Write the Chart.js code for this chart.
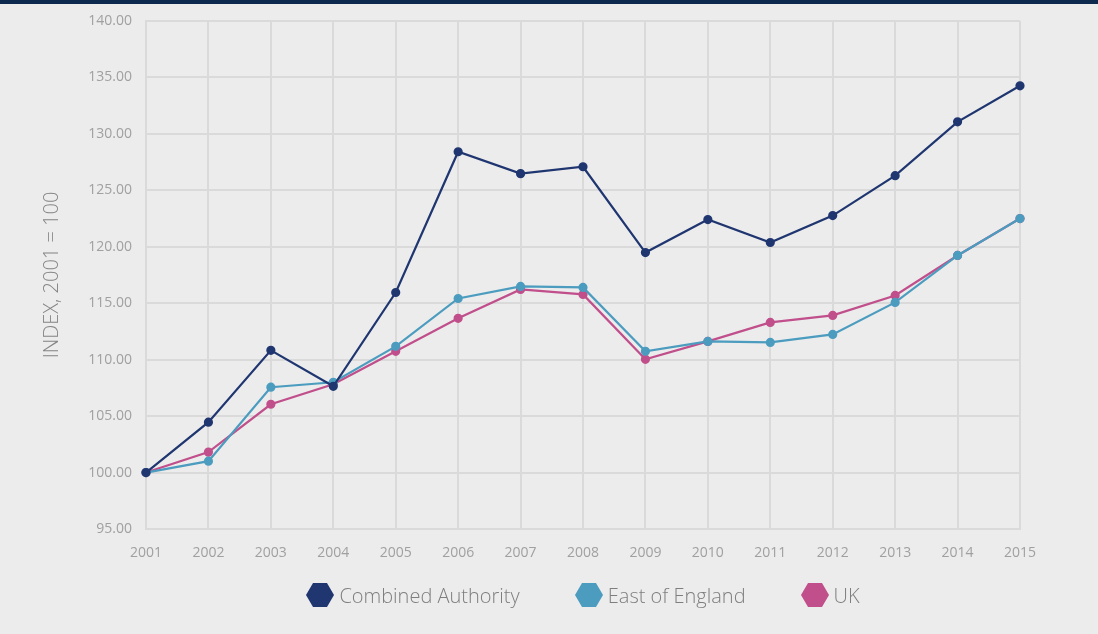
<!DOCTYPE html>
<html>
<head>
<meta charset="utf-8">
<script src="https://cdn.jsdelivr.net/npm/chart.js@4.4.0/dist/chart.umd.min.js"></script>
<style>
	html, body { margin: 0; padding: 0; background: #ececec; }
	#wrap { position: relative; width: 1098px; height: 634px; }
	#band { position: absolute; left: 0; top: 0; width: 1098px; height: 4px; background: #0d2a4e; }
	#legend {
		position: absolute; left: 146px; width: 874px; top: 580px; height: 30px;
		display: flex; justify-content: center; align-items: center;
		font-family: 'Open Sans'; font-weight: 300; font-size: 20px; color: #7e7e7e;
	}
	#legend .item { display: flex; align-items: center; margin-right: 55px; }
	#legend .item:last-child { margin-right: 0; }
	#legend canvas { margin-right: 5px; }
</style>
</head>
<body>
<div id="wrap">
	<canvas id="chart"></canvas>
	<div id="band"></div>
	<div id="legend"></div>
</div>
<script>

const years = ['2001', '2002', '2003', '2004', '2005', '2006', '2007', '2008', '2009', '2010', '2011', '2012', '2013', '2014', '2015'];

const combinedAuthority = [100.0, 104.46, 110.83, 107.64, 115.95, 128.42, 126.48, 127.09, 119.49, 122.41, 120.38, 122.76, 126.3, 131.07, 134.26];
const eastOfEngland = [100.0, 101.01, 107.56, 108.0, 111.18, 115.42, 116.49, 116.4, 110.74, 111.62, 111.53, 112.24, 115.07, 119.23, 122.5];
const uk = [100.0, 101.81, 106.05, 107.82, 110.74, 113.66, 116.22, 115.78, 110.03, 111.62, 113.3, 113.92, 115.69, 119.23, 122.5];

const seriesNames = ['Combined Authority', 'East of England', 'UK'];
const seriesColors = ['#1f3670', '#4b9cbf', '#c04f8b'];

function hexagon(color) {
	let c = document.createElement('canvas');
	c.width = 28;
	c.height = 24;
	let ctx = c.getContext('2d');
	ctx.fillStyle = color;
	ctx.beginPath();
	ctx.moveTo(0, 12);
	ctx.lineTo(7, 0);
	ctx.lineTo(21, 0);
	ctx.lineTo(28, 12);
	ctx.lineTo(21, 24);
	ctx.lineTo(7, 24);
	ctx.closePath();
	ctx.fill();
	return c;
}

const tickFont = { family: 'Open Sans', size: 14, weight: 400, lineHeight: 1 };

let datasets = [combinedAuthority, eastOfEngland, uk].map((values, key) => {
	return {
		label: seriesNames[key],
		data: values,
		borderColor: seriesColors[key],
		backgroundColor: seriesColors[key],
		borderWidth: 2.2,
		pointRadius: 3.5,
		pointHoverRadius: 3.5,
		tension: 0
	};
});

// html legend with hexagon markers
const htmlLegend = {
	id: 'htmlLegend',
	afterUpdate(chart) {
		let box = document.getElementById('legend');
		box.innerHTML = '';
		chart.data.datasets.forEach((dataset) => {
			let item = document.createElement('div');
			item.className = 'item';
			item.appendChild(hexagon(dataset.borderColor));
			let text = document.createElement('span');
			text.textContent = dataset.label;
			item.appendChild(text);
			box.appendChild(item);
		});
	}
};

new Chart(document.getElementById('chart'), {
	type: 'line',
	data: {
		labels: years,
		datasets: datasets
	},
	plugins: [htmlLegend],
	options: {
		responsive: true,
		maintainAspectRatio: false,
		animation: {
			duration: 0
		},
		layout: {
			padding: { top: 18, right: 78, bottom: 65, left: 0 }
		},
		scales: {
			x: {
				grid: { color: '#dadada', lineWidth: 2, drawTicks: false },
				border: { color: '#dadada', width: 2 },
				ticks: { color: '#a0a0a0', font: tickFont, padding: 17, maxRotation: 0 },
				afterFit: function(axis) { axis.height = 40; }
			},
			y: {
				min: 95,
				max: 140,
				grid: { color: '#dadada', lineWidth: 2, drawTicks: false },
				border: { color: '#dadada', width: 2 },
				ticks: {
					stepSize: 5,
					color: '#a0a0a0',
					font: tickFont,
					padding: 14,
					callback: function(value) {
						return value.toFixed(2);
					}
				},
				title: {
					display: true,
					text: 'INDEX, 2001 = 100',
					color: '#858585',
					padding: { top: 40, bottom: 0 },
					font: { family: 'Open Sans', size: 20, weight: 300 }
				},
				afterFit: function(axis) { axis.width = 146; }
			}
		},
		plugins: {
			legend: { display: false },
			tooltip: { enabled: false }
		}
	}
});

</script>
</body>
</html>
